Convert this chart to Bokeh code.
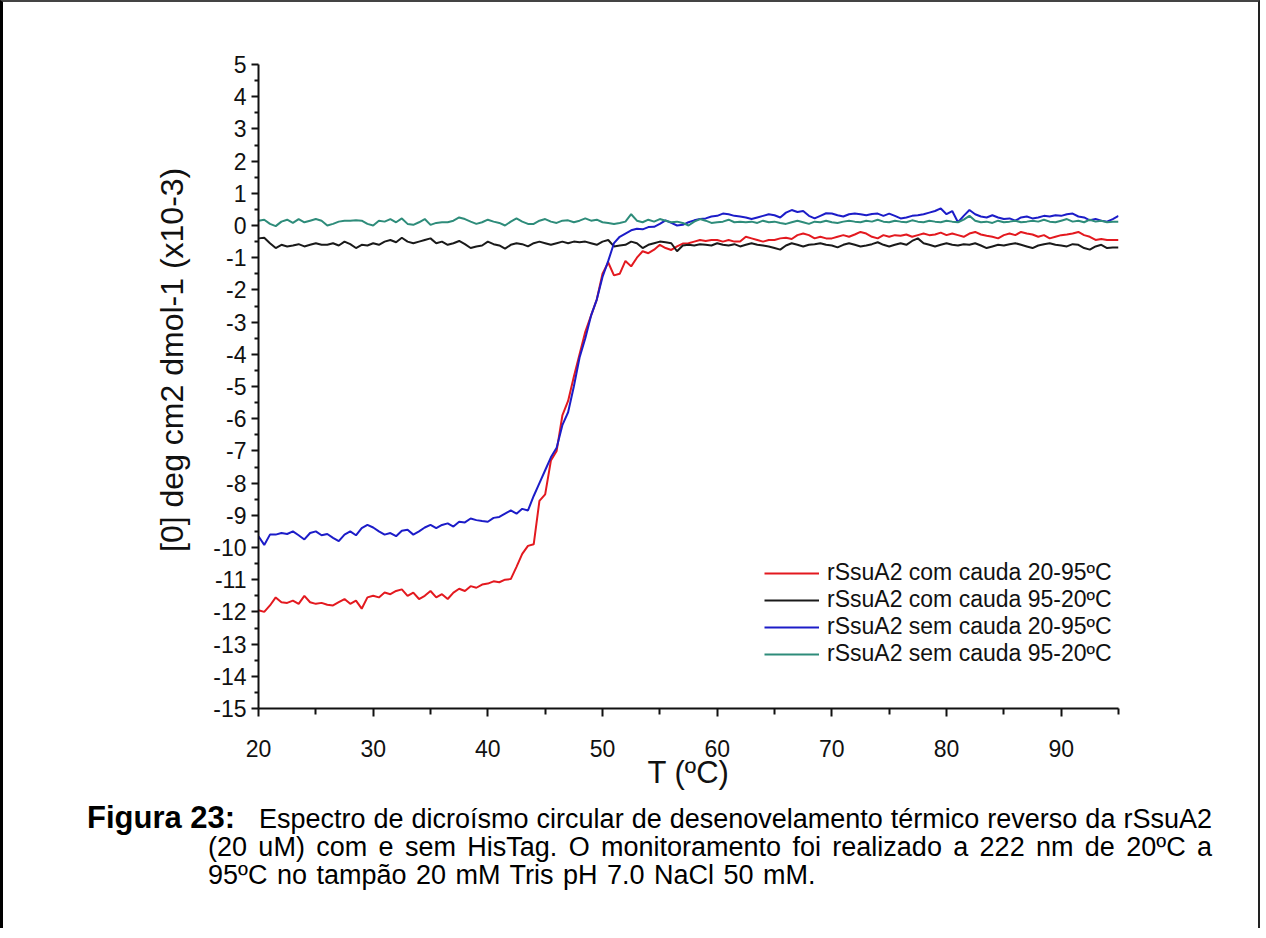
import numpy as np
from bokeh.plotting import figure
from bokeh.models import Legend, LegendItem, FixedTicker, Div, Range1d
from bokeh.layouts import column
from bokeh.embed import file_html
from bokeh.resources import INLINE

# Temperature grid (ºC), 0.5 ºC steps from 20 to 95
temps = np.arange(20.0, 95.01, 0.5)

# rSsuA2 com cauda 20-95ºC (red)
com_20_95 = [
    -11.95, -12.0, -11.8, -11.55, -11.7, -11.72, -11.65, -11.75, -11.5, -11.7,
    -11.75, -11.72, -11.78, -11.8, -11.7, -11.6, -11.75, -11.65, -11.9, -11.55,
    -11.5, -11.55, -11.4, -11.45, -11.35, -11.3, -11.5, -11.4, -11.6, -11.5,
    -11.35, -11.55, -11.45, -11.6, -11.4, -11.28, -11.35, -11.2, -11.25, -11.15,
    -11.12, -11.05, -11.08, -11.0, -10.98, -10.6, -10.2, -9.95, -9.9, -8.55,
    -8.35, -7.3, -7.0, -5.9, -5.45, -4.7, -4.0, -3.3, -2.8, -2.3,
    -1.5, -1.15, -1.55, -1.5, -1.1, -1.27, -1.0, -0.8, -0.86, -0.75,
    -0.6, -0.7, -0.76, -0.65, -0.56, -0.55, -0.5, -0.45, -0.48, -0.45,
    -0.45, -0.5, -0.45, -0.5, -0.5, -0.35, -0.4, -0.45, -0.5, -0.45,
    -0.45, -0.4, -0.38, -0.42, -0.3, -0.25, -0.3, -0.4, -0.35, -0.4,
    -0.4, -0.35, -0.3, -0.35, -0.28, -0.2, -0.25, -0.35, -0.4, -0.3,
    -0.35, -0.3, -0.32, -0.28, -0.35, -0.3, -0.25, -0.3, -0.28, -0.22,
    -0.3, -0.25, -0.3, -0.35, -0.25, -0.2, -0.28, -0.32, -0.35, -0.4,
    -0.3, -0.25, -0.3, -0.2, -0.25, -0.28, -0.35, -0.3, -0.4, -0.35,
    -0.3, -0.28, -0.25, -0.2, -0.3, -0.35, -0.45, -0.42, -0.45, -0.45,
    -0.45,
]

# rSsuA2 com cauda 95-20ºC (black)
com_95_20 = [
    -0.4, -0.38, -0.55, -0.7, -0.6, -0.65, -0.62, -0.58, -0.65, -0.6,
    -0.55, -0.6, -0.6, -0.55, -0.62, -0.5, -0.58, -0.7, -0.6, -0.62,
    -0.55, -0.6, -0.5, -0.45, -0.52, -0.38, -0.5, -0.55, -0.5, -0.45,
    -0.4, -0.55, -0.5, -0.6, -0.55, -0.48, -0.58, -0.7, -0.65, -0.62,
    -0.5, -0.58, -0.62, -0.72, -0.6, -0.55, -0.58, -0.65, -0.55, -0.5,
    -0.55, -0.6, -0.55, -0.5, -0.55, -0.5, -0.52, -0.5, -0.55, -0.6,
    -0.5, -0.45, -0.65, -0.62, -0.6, -0.5, -0.55, -0.7, -0.6, -0.55,
    -0.5, -0.52, -0.55, -0.8, -0.62, -0.6, -0.62, -0.58, -0.6, -0.62,
    -0.55, -0.6, -0.62, -0.58, -0.65, -0.6, -0.55, -0.6, -0.62, -0.65,
    -0.7, -0.75, -0.62, -0.55, -0.6, -0.65, -0.6, -0.58, -0.55, -0.6,
    -0.62, -0.68, -0.6, -0.55, -0.6, -0.65, -0.62, -0.58, -0.52, -0.6,
    -0.65, -0.6, -0.55, -0.6, -0.48, -0.4, -0.55, -0.6, -0.65, -0.6,
    -0.55, -0.6, -0.62, -0.58, -0.6, -0.55, -0.62, -0.7, -0.65, -0.6,
    -0.62, -0.58, -0.55, -0.6, -0.65, -0.7, -0.62, -0.58, -0.55, -0.6,
    -0.62, -0.65, -0.58, -0.6, -0.7, -0.75, -0.65, -0.6, -0.7, -0.68,
    -0.68,
]

# rSsuA2 sem cauda 20-95ºC (blue)
sem_20_95 = [
    -9.65, -9.92, -9.6, -9.6, -9.55, -9.58, -9.5, -9.62, -9.75, -9.55,
    -9.5, -9.62, -9.58, -9.7, -9.8, -9.6, -9.5, -9.62, -9.4, -9.3,
    -9.38, -9.5, -9.6, -9.55, -9.65, -9.48, -9.45, -9.6, -9.5, -9.38,
    -9.3, -9.4, -9.3, -9.25, -9.35, -9.2, -9.22, -9.1, -9.15, -9.18,
    -9.2, -9.08, -9.05, -8.95, -8.85, -8.95, -8.8, -8.85, -8.4, -8.0,
    -7.6, -7.2, -6.9, -6.2, -5.8, -5.0, -4.1, -3.5, -2.8, -2.3,
    -1.6, -1.1, -0.55, -0.35, -0.25, -0.15, -0.1, -0.12, -0.05, -0.04,
    0.05, 0.16, 0.08, 0.0, 0.02, 0.1, 0.16, 0.2, 0.22, 0.28,
    0.3, 0.37, 0.35, 0.3, 0.28, 0.25, 0.2, 0.25, 0.3, 0.35,
    0.32, 0.25, 0.4, 0.48, 0.42, 0.45, 0.3, 0.22, 0.3, 0.38,
    0.37, 0.32, 0.28, 0.35, 0.37, 0.35, 0.32, 0.36, 0.37, 0.3,
    0.37, 0.3, 0.22, 0.25, 0.3, 0.32, 0.35, 0.4, 0.45, 0.53,
    0.35, 0.45, 0.1, 0.3, 0.48, 0.35, 0.28, 0.25, 0.32, 0.25,
    0.2, 0.22, 0.15, 0.25, 0.28, 0.22, 0.25, 0.3, 0.28, 0.32,
    0.3, 0.35, 0.37, 0.28, 0.25, 0.16, 0.2, 0.15, 0.12, 0.2,
    0.3,
]

# rSsuA2 sem cauda 95-20ºC (teal)
sem_95_20 = [
    0.15, 0.18, 0.05, -0.02, 0.12, 0.18, 0.08, 0.2, 0.1, 0.15,
    0.2, 0.15, 0.0, 0.05, 0.12, 0.15, 0.15, 0.16, 0.15, 0.05,
    0.0, 0.15, 0.12, 0.2, 0.1, 0.22, 0.05, 0.02, 0.1, 0.2,
    0.02, 0.08, 0.1, 0.1, 0.15, 0.25, 0.2, 0.12, 0.05, 0.1,
    0.18, 0.12, 0.08, 0.0, 0.12, 0.22, 0.12, 0.05, 0.05, 0.15,
    0.2, 0.12, 0.08, 0.15, 0.16, 0.1, 0.15, 0.22, 0.15, 0.18,
    0.1, 0.08, 0.05, 0.08, 0.12, 0.35, 0.15, 0.1, 0.18, 0.12,
    0.2, 0.15, 0.1, 0.12, 0.08, 0.0, 0.12, 0.2, 0.15, 0.08,
    0.1, 0.12, 0.18, 0.1, 0.12, 0.1, 0.12, 0.08, 0.15, 0.1,
    0.12, 0.08, 0.05, 0.1, 0.15, 0.1, 0.05, 0.12, 0.1, 0.15,
    0.1, 0.08, 0.12, 0.15, 0.12, 0.1, 0.15, 0.12, 0.18, 0.12,
    0.1, 0.15, 0.12, 0.1, 0.16, 0.12, 0.1, 0.15, 0.12, 0.1,
    0.15, 0.12, 0.1, 0.18, 0.3, 0.15, 0.1, 0.12, 0.08, 0.15,
    0.1, 0.12, 0.15, 0.1, 0.12, 0.15, 0.12, 0.18, 0.12, 0.1,
    0.15, 0.2, 0.12, 0.15, 0.1, 0.18, 0.12, 0.15, 0.1, 0.12,
    0.12,
]

series_names = [
    "rSsuA2 com cauda 20-95ºC",
    "rSsuA2 com cauda 95-20ºC",
    "rSsuA2 sem cauda 20-95ºC",
    "rSsuA2 sem cauda 95-20ºC",
]
series_values = [com_20_95, com_95_20, sem_20_95, sem_95_20]
series_colors = ["#e3191f", "#1a1a1a", "#1c1cc8", "#2e8c7a"]

x_ticks = [20, 30, 40, 50, 60, 70, 80, 90]
x_minor = [25, 35, 45, 55, 65, 75, 85, 95]
y_ticks = list(range(-15, 6))
y_tick_labels = ["-15", "-14", "-13", "-12", "-11", "-10", "-9", "-8", "-7", "-6",
                 "-5", "-4", "-3", "-2", "-1", "0", "1", "2", "3", "4", "5"]
y_minor = [v + 0.5 for v in range(-15, 5)]

FONT = "Liberation Sans"

p = figure(width=1245, height=790, x_range=Range1d(20, 95), y_range=Range1d(-15, 5),
           output_backend="svg", toolbar_location=None,
           min_border_left=255, min_border_right=130, min_border_top=62, min_border_bottom=81)
p.outline_line_color = None
p.xgrid.visible = False
p.ygrid.visible = False
p.background_fill_color = "white"
p.border_fill_color = "white"

items = []
for name, vals, col in zip(series_names, series_values, series_colors):
    r = p.line(temps, vals, line_color=col, line_width=2)
    items.append(LegendItem(label=name, renderers=[r]))

for ax in (p.xaxis[0], p.yaxis[0]):
    ax.axis_line_width = 2
    ax.axis_line_color = "#111111"
    ax.major_tick_line_width = 2
    ax.major_tick_line_color = "#111111"
    ax.minor_tick_line_width = 2
    ax.minor_tick_line_color = "#111111"
    ax.major_tick_in = 0
    ax.minor_tick_in = 0
    ax.major_label_text_font = FONT
    ax.major_label_text_font_size = "23px"
    ax.major_label_text_color = "#111111"
    ax.axis_label_text_font = FONT
    ax.axis_label_text_font_style = "normal"
    ax.axis_label_text_color = "#111111"

p.xaxis.ticker = FixedTicker(ticks=x_ticks, minor_ticks=x_minor)
p.yaxis.ticker = FixedTicker(ticks=y_ticks, minor_ticks=y_minor)
p.yaxis.major_label_overrides = {t: s for t, s in zip(y_ticks, y_tick_labels)}
p.xaxis.major_tick_out = 8
p.xaxis.minor_tick_out = 6
p.yaxis.major_tick_out = 7
p.yaxis.minor_tick_out = 4
p.xaxis.major_label_standoff = 23
p.yaxis.major_label_standoff = 5
p.xaxis.axis_label = "T (ºC)"
p.xaxis.axis_label_text_font_size = "31px"
p.xaxis.axis_label_standoff = -5
# leading no-break spaces shift the centred label upward, as in the original
p.yaxis.axis_label = "\u00a0" * 6 + "[0] deg cm2 dmol-1 (x10-3)"
p.yaxis.axis_label_text_font_size = "32px"
p.yaxis.axis_label_standoff = 20

legend = Legend(items=items, location=(506, 41))
legend.border_line_color = None
legend.background_fill_alpha = 0
legend.label_text_font = FONT
legend.label_text_font_size = "23px"
legend.label_text_color = "#111111"
legend.glyph_width = 55
legend.glyph_height = 26
legend.label_height = 26
legend.spacing = 0
legend.padding = 0
legend.margin = 0
legend.label_standoff = 8
p.add_layout(legend)

caption_html = (
    '<div style="position:relative;width:1240px;height:124px;'
    "font-family:'Liberation Sans',Arial,sans-serif;font-size:27px;line-height:29px;color:#000;\">"
    '<div style="position:absolute;left:79px;top:6px;font-weight:bold;font-size:31px;white-space:nowrap;">Figura 23:</div>'
    '<div style="position:absolute;left:251px;top:8px;white-space:nowrap;word-spacing:0.5px;">'
    'Espectro de dicroísmo circular de desenovelamento térmico reverso da rSsuA2</div>'
    '<div style="position:absolute;left:200px;top:36px;width:1004px;text-align:justify;text-align-last:justify;">'
    '(20 uM) com e sem HisTag. O monitoramento foi realizado a 222 nm de 20ºC a</div>'
    '<div style="position:absolute;left:200px;top:64px;white-space:nowrap;word-spacing:2px;">'
    '95ºC no tampão 20 mM Tris pH 7.0 NaCl 50 mM.</div>'
    '</div>'
)
caption = Div(text=caption_html, width=1245, height=126)

layout = column(p, caption, spacing=0,
                styles={"border-top": "2px solid #444", "border-left": "3px solid #000",
                        "border-right": "2px solid #222"})

open("out.html", "w").write(file_html(layout, INLINE))
